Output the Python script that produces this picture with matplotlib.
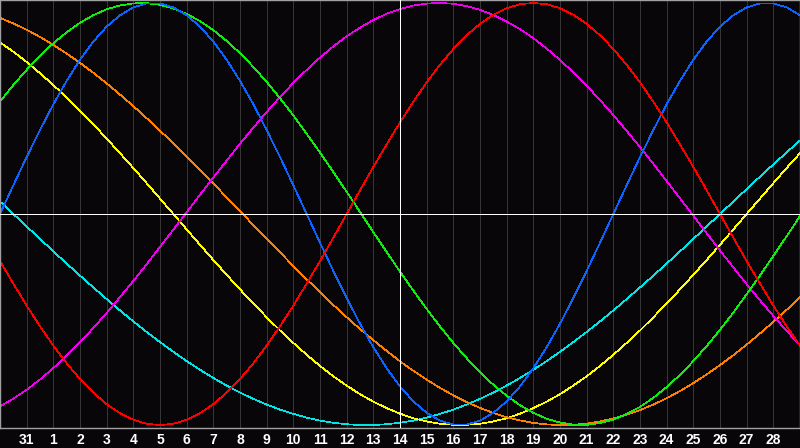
import matplotlib
matplotlib.use("Agg")
import matplotlib.pyplot as plt
import matplotlib.transforms as mtransforms

# day axis: 31 (prev month) -> 0, 1 -> 1, ... 28 -> 28; curves run one day past each edge
day_labels = ["31"] + [str(d) for d in range(1, 29)]
today = 14
# curve samples every half day from -1 to 29
day_pos = [k / 2 - 1 for k in range(61)]

# values (range -1 .. 1), one per half day
physical = [0.000, 0.136, 0.270, 0.398, 0.520, 0.631, 0.731, 0.817, 0.888, 0.942,
            0.979, 0.998, 0.998, 0.979, 0.942, 0.888, 0.817, 0.731, 0.631, 0.520,
            0.398, 0.270, 0.136, 0.000, -0.136, -0.270, -0.398, -0.520, -0.631, -0.731,
            -0.817, -0.888, -0.942, -0.979, -0.998, -0.998, -0.979, -0.942, -0.888, -0.817,
            -0.731, -0.631, -0.520, -0.398, -0.270, -0.136, 0.000, 0.136, 0.270, 0.398,
            0.520, 0.631, 0.731, 0.817, 0.888, 0.942, 0.979, 0.998, 0.998, 0.979, 0.942]
emotional = [-0.223, -0.330, -0.434, -0.532, -0.624, -0.707, -0.782, -0.847, -0.901, -0.944,
             -0.975, -0.994, -1.000, -0.994, -0.975, -0.944, -0.901, -0.847, -0.782, -0.707,
             -0.624, -0.532, -0.434, -0.330, -0.223, -0.112, 0.000, 0.112, 0.223, 0.330,
             0.434, 0.532, 0.624, 0.707, 0.782, 0.847, 0.901, 0.944, 0.975, 0.994,
             1.000, 0.994, 0.975, 0.944, 0.901, 0.847, 0.782, 0.707, 0.624, 0.532,
             0.434, 0.330, 0.223, 0.112, 0.000, -0.112, -0.223, -0.330, -0.434, -0.532, -0.624]
intellectual = [0.533, 0.611, 0.683, 0.750, 0.809, 0.861, 0.906, 0.942, 0.970, 0.988,
                0.998, 0.999, 0.991, 0.974, 0.948, 0.914, 0.871, 0.820, 0.762, 0.697,
                0.626, 0.549, 0.467, 0.380, 0.291, 0.199, 0.105, 0.010, -0.086, -0.180,
                -0.273, -0.363, -0.450, -0.533, -0.611, -0.683, -0.750, -0.809, -0.861, -0.906,
                -0.942, -0.970, -0.988, -0.998, -0.999, -0.991, -0.974, -0.948, -0.914, -0.871,
                -0.820, -0.762, -0.697, -0.626, -0.549, -0.467, -0.380, -0.291, -0.199, -0.105, -0.010]
intuitive = [-0.912, -0.875, -0.833, -0.784, -0.730, -0.671, -0.608, -0.540, -0.469, -0.394,
             -0.317, -0.238, -0.156, -0.074, 0.008, 0.091, 0.173, 0.253, 0.333, 0.409,
             0.483, 0.554, 0.621, 0.683, 0.741, 0.794, 0.842, 0.883, 0.919, 0.949,
             0.971, 0.988, 0.997, 1.000, 0.996, 0.985, 0.967, 0.943, 0.912, 0.876,
             0.833, 0.784, 0.730, 0.671, 0.608, 0.540, 0.469, 0.394, 0.317, 0.238,
             0.156, 0.074, -0.008, -0.091, -0.173, -0.253, -0.333, -0.409, -0.483, -0.554, -0.621]
spiritual = [0.059, 0.000, -0.059, -0.118, -0.177, -0.235, -0.292, -0.348, -0.403, -0.457,
             -0.509, -0.559, -0.607, -0.653, -0.697, -0.738, -0.777, -0.813, -0.846, -0.876,
             -0.903, -0.927, -0.947, -0.965, -0.979, -0.989, -0.996, -1.000, -1.000, -0.996,
             -0.989, -0.979, -0.965, -0.947, -0.927, -0.903, -0.876, -0.846, -0.813, -0.777,
             -0.738, -0.697, -0.653, -0.607, -0.559, -0.509, -0.457, -0.403, -0.348, -0.292,
             -0.235, -0.177, -0.118, -0.059, 0.000, 0.059, 0.118, 0.177, 0.235, 0.292, 0.348]
aesthetic = [0.813, 0.769, 0.720, 0.667, 0.611, 0.552, 0.489, 0.425, 0.357, 0.288,
             0.218, 0.146, 0.073, 0.000, -0.073, -0.146, -0.218, -0.288, -0.357, -0.425,
             -0.489, -0.552, -0.611, -0.667, -0.720, -0.769, -0.813, -0.854, -0.889, -0.920,
             -0.946, -0.968, -0.983, -0.994, -0.999, -0.999, -0.994, -0.983, -0.968, -0.946,
             -0.920, -0.889, -0.854, -0.813, -0.769, -0.720, -0.667, -0.611, -0.552, -0.489,
             -0.425, -0.357, -0.288, -0.218, -0.146, -0.073, 0.000, 0.073, 0.146, 0.218, 0.288]
awareness = [0.929, 0.903, 0.873, 0.839, 0.801, 0.760, 0.716, 0.669, 0.619, 0.566,
             0.511, 0.454, 0.395, 0.334, 0.271, 0.208, 0.144, 0.079, 0.013, -0.052,
             -0.118, -0.182, -0.246, -0.309, -0.371, -0.431, -0.489, -0.545, -0.598, -0.649,
             -0.698, -0.743, -0.785, -0.824, -0.859, -0.891, -0.919, -0.943, -0.963, -0.978,
             -0.990, -0.997, -1.000, -0.999, -0.993, -0.983, -0.969, -0.951, -0.929, -0.903,
             -0.873, -0.839, -0.801, -0.760, -0.716, -0.669, -0.619, -0.566, -0.511, -0.454, -0.395]

# drawing order: bottom first
series = [
    (spiritual, "#00e6e6"),
    (aesthetic, "#ffff00"),
    (awareness, "#ff8000"),
    (intuitive, "#ee00ee"),
    (intellectual, "#10ee10"),
    (physical, "#0a64ff"),
    (emotional, "#ff0000"),
]

bg = "#080609"
px = 0.72  # one pixel at 100 dpi

fig = plt.figure(figsize=(8, 4.48), dpi=100, facecolor=bg)
ax = fig.add_axes([0, 20 / 448, 1, 428 / 448])
ax.set_facecolor(bg)

for d in range(len(day_labels)):
    ax.axvline(d, color="#363636", lw=px, antialiased=False, zorder=1)

for values, color in series:
    ax.plot(day_pos, values, color=color, lw=0.5, antialiased=False, zorder=2)

ax.axhline(0, color="white", lw=px, antialiased=False, zorder=3)
ax.axvline(today, color="white", lw=px, antialiased=False, zorder=3)

ax.set_xlim(-1, 29)
ax.set_ylim(-1.014, 1.014)
ax.set_xticks([])
ax.set_yticks([])
for side in ["top", "bottom", "left", "right"]:
    ax.spines[side].set_color("#a0a0a0")
    ax.spines[side].set_linewidth(1.0)

trans = mtransforms.blended_transform_factory(ax.transData, ax.transAxes)
for i, lab in enumerate(day_labels):
    ax.text(i, -15.5 / 428, lab, transform=trans, ha="center", va="baseline",
            color="white", fontsize=10, fontweight="bold", family="Liberation Sans",
            clip_on=False)

fig.savefig("out.png", dpi=100, facecolor=bg)
